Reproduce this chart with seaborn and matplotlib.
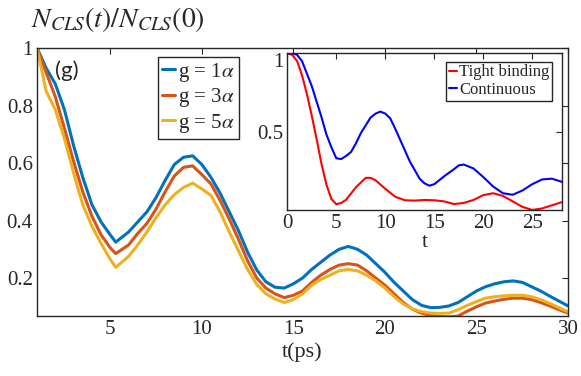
import numpy as np
import pandas as pd
import matplotlib
matplotlib.use('Agg')
import matplotlib.pyplot as plt
import seaborn as sns

# Main panel data
t_main = [1, 1.5, 2, 2.5, 3, 3.5, 4, 4.5, 5, 5.3, 6, 6.5, 7, 7.5, 8, 8.5, 9, 9.5,
          10, 10.5, 11, 11.5, 12, 12.5, 13, 13.5, 14, 14.5, 15, 15.5, 16, 16.5,
          17, 17.5, 18, 18.5, 19, 19.5, 20, 20.5, 21, 21.5, 22, 22.5, 23, 23.5,
          24, 24.5, 25, 25.5, 26, 26.5, 27, 27.5, 28, 28.5, 29, 29.5, 30]
g1 = [1.0, 0.93, 0.875, 0.785, 0.66, 0.55, 0.455, 0.395, 0.35, 0.325, 0.36, 0.395,
      0.43, 0.48, 0.54, 0.595, 0.62, 0.625, 0.595, 0.55, 0.495, 0.43, 0.365, 0.29,
      0.228, 0.187, 0.168, 0.165, 0.18, 0.2, 0.23, 0.255, 0.28, 0.3, 0.31, 0.3, 0.28,
      0.25, 0.22, 0.185, 0.155, 0.125, 0.105, 0.097, 0.098, 0.103, 0.115, 0.135,
      0.155, 0.17, 0.18, 0.187, 0.19, 0.185, 0.17, 0.155, 0.137, 0.12, 0.103]
g3 = [1.0, 0.915, 0.83, 0.72, 0.605, 0.5, 0.415, 0.35, 0.305, 0.285, 0.315, 0.355,
      0.39, 0.44, 0.5, 0.555, 0.585, 0.59, 0.56, 0.527, 0.47, 0.405, 0.335, 0.26,
      0.2, 0.165, 0.145, 0.132, 0.14, 0.155, 0.185, 0.21, 0.23, 0.245, 0.25,
      0.245, 0.225, 0.2, 0.175, 0.145, 0.115, 0.092, 0.078, 0.07, 0.066, 0.065,
      0.068, 0.085, 0.1, 0.113, 0.12, 0.126, 0.13, 0.13, 0.125, 0.115, 0.103,
      0.09, 0.078]
g5 = [1.0, 0.85, 0.785, 0.685, 0.565, 0.455, 0.38, 0.32, 0.265, 0.237, 0.275,
      0.315, 0.36, 0.41, 0.455, 0.49, 0.515, 0.53, 0.51, 0.487, 0.43, 0.36, 0.295,
      0.23, 0.178, 0.145, 0.127, 0.115, 0.125, 0.145, 0.175, 0.195, 0.21, 0.225,
      0.23, 0.225, 0.21, 0.19, 0.165, 0.135, 0.11, 0.093, 0.083, 0.078, 0.077,
      0.078, 0.09, 0.105, 0.118, 0.13, 0.135, 0.138, 0.14, 0.14, 0.135, 0.125,
      0.112, 0.097, 0.082]
labels_main = [r'g = 1$\alpha$', r'g = 3$\alpha$', r'g = 5$\alpha$']

# Inset data
t_tb = [0, 0.5, 1, 1.5, 2, 2.5, 3, 3.5, 4, 4.5, 5, 5.5, 6, 7, 8, 8.5, 9, 10, 11,
        12, 13, 14, 15, 16, 17, 18, 19, 20, 21, 22, 23, 24, 25, 26, 27, 28]
tight = [1.0, 0.99, 0.95, 0.86, 0.74, 0.6, 0.45, 0.29, 0.16, 0.07, 0.037, 0.045,
         0.065, 0.145, 0.205, 0.205, 0.19, 0.135, 0.085, 0.062, 0.06, 0.064, 0.062,
         0.055, 0.038, 0.045, 0.064, 0.095, 0.107, 0.09, 0.055, 0.02, 0.0, 0.01,
         0.03, 0.05]
t_ct = [0, 0.5, 1, 1.5, 2, 2.5, 3, 3.5, 4, 4.5, 5, 5.5, 6, 6.5, 7, 7.5, 8, 8.5, 9,
        9.5, 10, 10.5, 11, 11.5, 12, 12.5, 13, 13.5, 14, 14.5, 15, 16, 17, 17.5, 18,
        19, 20, 21, 22, 23, 24, 25, 26, 27, 28]
cont = [1.0, 1.0, 0.99, 0.95, 0.87, 0.79, 0.69, 0.59, 0.48, 0.4, 0.33, 0.325,
        0.345, 0.37, 0.425, 0.49, 0.54, 0.59, 0.615, 0.628, 0.615, 0.585, 0.52,
        0.45, 0.38, 0.31, 0.255, 0.2, 0.17, 0.155, 0.165, 0.215, 0.26, 0.285, 0.29,
        0.265, 0.21, 0.15, 0.107, 0.097, 0.125, 0.165, 0.195, 0.2, 0.18]

sns.set_style('white')
plt.rcParams['font.family'] = ['Liberation Serif', 'DejaVu Serif']
plt.rcParams['mathtext.fontset'] = 'stix'
plt.rcParams['axes.edgecolor'] = '#262626'
plt.rcParams['axes.linewidth'] = 1.0

df = pd.DataFrame({'t': t_main * 3, 'N': g1 + g3 + g5,
                   'g': [labels_main[0]] * len(t_main) + [labels_main[1]] * len(t_main)
                   + [labels_main[2]] * len(t_main)})
colors = ['#0072BD', '#D95319', '#EDB120']

fig = plt.figure(figsize=(5.81, 3.76), dpi=100)
ax = fig.add_axes([0.0637, 0.1596, 0.914, 0.7127])
sns.lineplot(data=df, x='t', y='N', hue='g', palette=colors, linewidth=2.2, ax=ax)
ax.set_xlim(1, 30)
ax.set_ylim(0.068, 1)
ax.set_xticks([5, 10, 15, 20, 25, 30])
ax.set_yticks([0.2, 0.4, 0.6, 0.8, 1])
ax.set_yticklabels(['0.2', '0.4', '0.6', '0.8', '1'])
ax.tick_params(direction='in', top=True, right=True, labelsize=15, length=4,
               color='#262626', pad=3)
ax.set_xlabel('t(ps)', fontsize=16, labelpad=2)
ax.set_ylabel('')
leg = ax.legend(loc='upper left', bbox_to_anchor=(0.228, 0.968), fontsize=15,
                handlelength=0.6, handletextpad=0.15, borderpad=0.2,
                labelspacing=0.12, fancybox=False, edgecolor='#262626',
                framealpha=1, borderaxespad=0)
leg.get_frame().set_linewidth(1.0)
ax.text(0.033, 0.915, '(g)', transform=ax.transAxes, fontsize=16, family='Lato',
        va='center')
fig.text(0.053, 0.948, r'$N_{CLS}(t)/N_{CLS}(0)$', fontsize=20, va='center')

# inset
ins = fig.add_axes([0.4945, 0.4415, 0.4723, 0.4168])
df2 = pd.DataFrame({'t': t_tb + t_ct, 'N': tight + cont,
                    'model': ['Tight binding'] * len(t_tb) + ['Continuous'] * len(t_ct)})
sns.lineplot(data=df2, x='t', y='N', hue='model', palette=['#FF0000', '#0000FF'],
             linewidth=1.5, ax=ins)
ins.set_xlim(0, 28)
ins.set_ylim(0, 1)
ins.set_xticks([0, 5, 10, 15, 20, 25])
ins.set_yticks([0.5, 1])
ins.set_yticklabels(['0.5', '1'])
ins.get_yticklabels()[1].set_va('top')
ins.tick_params(direction='in', top=True, right=True, labelsize=15, length=4,
                color='#262626', pad=3)
ins.set_xlabel('t', fontsize=16, labelpad=0)
ins.set_ylabel('')
leg2 = ins.legend(loc='upper left', bbox_to_anchor=(0.58, 0.945), fontsize=12,
                  handlelength=0.5, handletextpad=0.1, borderpad=0.15,
                  labelspacing=0.1, fancybox=False, edgecolor='#262626',
                  framealpha=1, borderaxespad=0)
leg2.get_frame().set_linewidth(1.0)

fig.savefig('out.png', dpi=100)
